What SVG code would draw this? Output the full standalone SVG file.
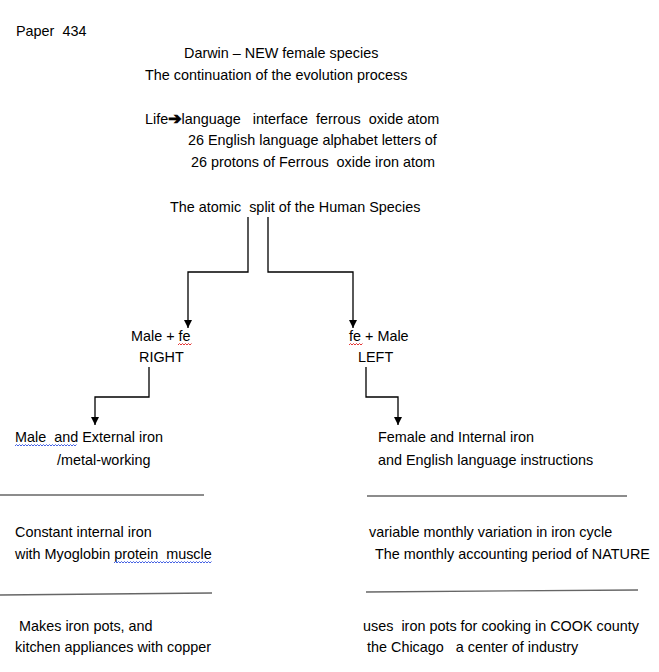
<svg xmlns="http://www.w3.org/2000/svg" width="659" height="672" viewBox="0 0 659 672">
<defs>
<style>
text{font-family:"Liberation Sans",Arial,sans-serif;font-size:14.4px;fill:#000;white-space:pre}
.c{fill:none;stroke:#000;stroke-width:1.3}
.r{stroke:#666;stroke-width:1.3;fill:none}
.wr{fill:none;stroke:#e02020;stroke-width:0.9}
.wb{fill:none;stroke:#3050e0;stroke-width:0.9}
</style>
<marker id="ah" viewBox="0 0 10 10" refX="10" refY="5" markerWidth="8" markerHeight="8" markerUnits="userSpaceOnUse" orient="auto">
<path d="M0,0 L10,5 L0,10 Z" fill="#000"/>
</marker>
</defs>
<rect width="659" height="672" fill="#fff"/>
<g id="header">
<text x="16" y="36" xml:space="preserve">Paper  434</text>
<text x="184" y="58">Darwin – NEW female species</text>
<text x="145" y="80">The continuation of the evolution process</text>
</g>
<g id="intro">
<text x="145" y="124" xml:space="preserve">Life<tspan font-family="DejaVu Sans" font-weight="bold" font-size="16px" stroke="#000" stroke-width="0.9">➔</tspan>language   interface  ferrous  oxide atom</text>
<text x="188" y="145">26 English language alphabet letters of</text>
<text x="191" y="167" xml:space="preserve">26 protons of Ferrous  oxide iron atom</text>
</g>
<g id="split">
<text x="170" y="212" xml:space="preserve">The atomic  split of the Human Species</text>
</g>
<g id="right">
<text x="131" y="341">Male + fe</text>
<text x="139" y="362">RIGHT</text>
<path class="wr" d="M178,345 l1.5,-1.5 l1.5,1.5 l1.5,-1.5 l1.5,1.5 l1.5,-1.5 l1.5,1.5 l1.5,-1.5 l1.5,1.5 l1.5,-1.5"/>
</g>
<g id="left">
<text x="349" y="341">fe + Male</text>
<text x="358" y="362">LEFT</text>
<path class="wr" d="M349,345 l1.5,-1.5 l1.5,1.5 l1.5,-1.5 l1.5,1.5 l1.5,-1.5 l1.5,1.5 l1.5,-1.5 l1.5,1.5 l1.5,-1.5"/>
</g>
<g id="male-external">
<text x="15" y="442" xml:space="preserve">Male  and External iron</text>
<text x="57" y="465">/metal-working</text>
<path class="wb" d="M15,446 l1.5,-1.5 l1.5,1.5 l1.5,-1.5 l1.5,1.5 l1.5,-1.5 l1.5,1.5 l1.5,-1.5 l1.5,1.5 l1.5,-1.5 l1.5,1.5 l1.5,-1.5 l1.5,1.5 l1.5,-1.5 l1.5,1.5 l1.5,-1.5 l1.5,1.5 l1.5,-1.5 l1.5,1.5 l1.5,-1.5 l1.5,1.5 l1.5,-1.5 l1.5,1.5 l1.5,-1.5 l1.5,1.5 l1.5,-1.5 l1.5,1.5 l1.5,-1.5 l1.5,1.5 l1.5,-1.5 l1.5,1.5 l1.5,-1.5 l1.5,1.5 l1.5,-1.5 l1.5,1.5 l1.5,-1.5 l1.5,1.5 l1.5,-1.5 l1.5,1.5 l1.5,-1.5 l1.5,1.5 l1.5,-1.5"/>
</g>
<g id="female-internal">
<text x="378" y="442">Female and Internal iron</text>
<text x="378" y="465">and English language instructions</text>
</g>
<g id="rules">
<line class="r" x1="0" y1="495" x2="204" y2="495"/>
<line class="r" x1="367" y1="496" x2="627" y2="496"/>
<line class="r" x1="0" y1="595" x2="212" y2="593"/>
<line class="r" x1="366" y1="592" x2="638" y2="590"/>
</g>
<g id="constant">
<text x="15" y="537">Constant internal iron</text>
<text x="15" y="559" xml:space="preserve">with Myoglobin protein  muscle</text>
<path class="wb" d="M114,563 l1.5,-1.5 l1.5,1.5 l1.5,-1.5 l1.5,1.5 l1.5,-1.5 l1.5,1.5 l1.5,-1.5 l1.5,1.5 l1.5,-1.5 l1.5,1.5 l1.5,-1.5 l1.5,1.5 l1.5,-1.5 l1.5,1.5 l1.5,-1.5 l1.5,1.5 l1.5,-1.5 l1.5,1.5 l1.5,-1.5 l1.5,1.5 l1.5,-1.5 l1.5,1.5 l1.5,-1.5 l1.5,1.5 l1.5,-1.5 l1.5,1.5 l1.5,-1.5 l1.5,1.5 l1.5,-1.5 l1.5,1.5 l1.5,-1.5 l1.5,1.5 l1.5,-1.5 l1.5,1.5 l1.5,-1.5 l1.5,1.5 l1.5,-1.5 l1.5,1.5 l1.5,-1.5 l1.5,1.5 l1.5,-1.5 l1.5,1.5 l1.5,-1.5 l1.5,1.5 l1.5,-1.5 l1.5,1.5 l1.5,-1.5 l1.5,1.5 l1.5,-1.5 l1.5,1.5 l1.5,-1.5 l1.5,1.5 l1.5,-1.5 l1.5,1.5 l1.5,-1.5 l1.5,1.5 l1.5,-1.5 l1.5,1.5 l1.5,-1.5 l1.5,1.5 l1.5,-1.5 l1.5,1.5 l1.5,-1.5 l1.5,1.5 l1.5,-1.5"/>
</g>
<g id="variable">
<text x="369" y="537">variable monthly variation in iron cycle</text>
<text x="375" y="559">The monthly accounting period of NATURE</text>
</g>
<g id="makes">
<text x="15" y="631" xml:space="preserve"> Makes iron pots, and</text>
<text x="15" y="652">kitchen appliances with copper</text>
</g>
<g id="uses">
<text x="363" y="631" xml:space="preserve">uses  iron pots for cooking in COOK county</text>
<text x="367" y="652" xml:space="preserve">the Chicago   a center of industry</text>
</g>
<g id="connectors">
<polyline class="c" points="248,217 248,272 188,272 188,328" marker-end="url(#ah)"/>
<polyline class="c" points="268,217 268,272 353,272 353,328" marker-end="url(#ah)"/>
<polyline class="c" points="149,367 149,397 95,397 95,425" marker-end="url(#ah)"/>
<polyline class="c" points="366,367 366,397 398,397 398,425" marker-end="url(#ah)"/>
</g>
</svg>
